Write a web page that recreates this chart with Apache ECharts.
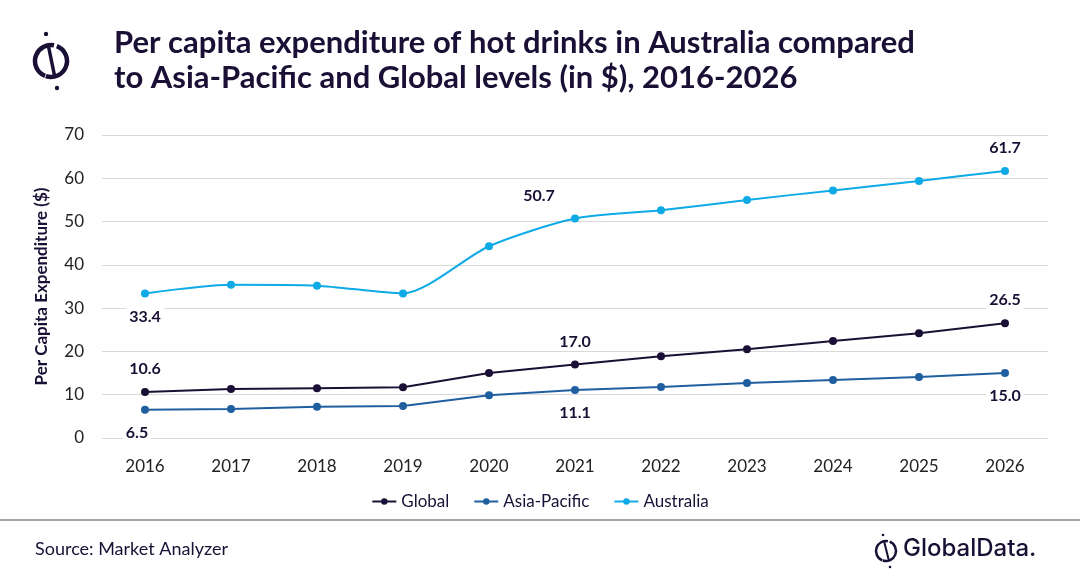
<!DOCTYPE html>
<html><head><meta charset="utf-8">
<script src="https://cdn.jsdelivr.net/npm/echarts@6/dist/echarts.min.js"></script>
<style>html,body{margin:0;padding:0;background:#fff}#c{width:1080px;height:578px}</style>
</head><body><div id="c"></div>
<script>
const years = ['2016','2017','2018','2019','2020','2021','2022','2023','2024','2025','2026'];
const globalVals = [10.6, 11.3, 11.5, 11.7, 15.0, 17.0, 18.9, 20.5, 22.4, 24.2, 26.5];
const asiaVals = [6.5, 6.7, 7.2, 7.4, 9.9, 11.1, 11.8, 12.7, 13.4, 14.1, 15.0];
const ausVals = [33.4, 35.4, 35.2, 33.4, 44.3, 50.7, 52.6, 55.0, 57.2, 59.4, 61.7];
const yTicks = [0, 10, 20, 30, 40, 50, 60, 70];
// which points get a label, and where
const globalLabels = {0:'top', 5:'top', 10:'top'};
const asiaLabels = {0:'bottom', 5:'bottom', 10:'bottom'};
const ausLabels = {0:'bottom', 5:'top', 10:'top'};

const dark = '#1a1035';
const FONT = 'Lato';
function mkData(vals, labels, extra) {
  return vals.map((v, i) => {
    if (labels[i] === undefined) return v;
    const lab = {show: true, position: labels[i], formatter: v.toFixed(1), distance: 10,
      color: dark, fontWeight: 'bold', fontSize: 16, fontFamily: FONT,
      backgroundColor: '#fff', padding: [1, 3]};
    if (extra && extra[i]) Object.assign(lab, extra[i]);
    return {value: v, label: lab};
  });
}
const chart = echarts.init(document.getElementById('c'));
chart.setOption({
  animation: false,
  textStyle: {fontFamily: FONT},
  title: {
    text: 'Per capita expenditure of hot drinks in Australia compared\nto Asia-Pacific and Global levels (in $), 2016-2026',
    left: 109, top: 20,
    textStyle: {fontSize: 31, fontWeight: 'bold', color: dark, lineHeight: 35, fontFamily: FONT}
  },
  legend: {
    bottom: 63, left: 'center', itemWidth: 24, itemHeight: 8, itemGap: 24,
    textStyle: {fontSize: 17, color: dark, fontFamily: FONT},
    data: ['Global', 'Asia-Pacific', 'Australia']
  },
  grid: {left: 102, right: 32, top: 135, bottom: 140},
  xAxis: {
    type: 'category', data: years, boundaryGap: true,
    axisLine: {show: false}, axisTick: {show: false},
    axisLabel: {fontSize: 17, color: '#222', margin: 20, fontFamily: FONT}
  },
  yAxis: {
    type: 'value', min: 0, max: 70, interval: 10,
    name: 'Per Capita Expenditure ($)', nameLocation: 'middle', nameGap: 52,
    nameTextStyle: {fontSize: 17, fontWeight: 'bold', color: dark, fontFamily: FONT},
    axisLabel: {fontSize: 17, color: '#222', margin: 18, fontFamily: FONT,
      formatter: v => yTicks.includes(v) ? String(v) : ''},
    splitLine: {lineStyle: {color: '#d9d9d9', width: 1}}
  },
  series: [
    {name: 'Global', type: 'line', data: mkData(globalVals, globalLabels),
     symbol: 'circle', symbolSize: 8, color: dark, lineStyle: {width: 2}},
    {name: 'Asia-Pacific', type: 'line', data: mkData(asiaVals, asiaLabels, {0: {offset: [-8, 0]}}),
     symbol: 'circle', symbolSize: 8, color: '#1f5fa0', lineStyle: {width: 2}},
    {name: 'Australia', type: 'line', data: mkData(ausVals, ausLabels, {5: {offset: [-36, 0]}}),
     symbol: 'circle', symbolSize: 8, color: '#0eaae6', lineStyle: {width: 2}, smooth: 0.25}
  ],
  graphic: [
    {type: 'line', shape: {x1: 0, y1: 520, x2: 1080, y2: 520}, style: {stroke: '#888', lineWidth: 1.5}},
    {type: 'text', left: 35, top: 540, style: {text: 'Source: Market Analyzer', fontSize: 18, fill: dark, fontFamily: FONT}},
    // top-left logo
    {type: 'arc', shape: {cx: 51, cy: 61, r: 16, startAngle: -1.2, endAngle: 1.9, clockwise: true}, style: {stroke: dark, lineWidth: 4.5, fill: 'none'}},
    {type: 'arc', shape: {cx: 51, cy: 61, r: 16, startAngle: 1.95, endAngle: 4.9, clockwise: true}, style: {stroke: dark, lineWidth: 4.5, fill: 'none'}},
    {type: 'line', shape: {x1: 48, y1: 44, x2: 55, y2: 78}, style: {stroke: dark, lineWidth: 3.5}},
    {type: 'circle', shape: {cx: 46, cy: 34, r: 2.2}, style: {fill: dark}},
    {type: 'circle', shape: {cx: 57, cy: 88, r: 2.2}, style: {fill: dark}},
    // bottom-right logo
    {type: 'arc', shape: {cx: 886, cy: 551, r: 10, startAngle: -1.2, endAngle: 1.9, clockwise: true}, style: {stroke: dark, lineWidth: 2.5, fill: 'none'}},
    {type: 'arc', shape: {cx: 886, cy: 551, r: 10, startAngle: 1.95, endAngle: 4.9, clockwise: true}, style: {stroke: dark, lineWidth: 2.5, fill: 'none'}},
    {type: 'line', shape: {x1: 884, y1: 541, x2: 889, y2: 561}, style: {stroke: dark, lineWidth: 2}},
    {type: 'circle', shape: {cx: 883, cy: 535, r: 1.3}, style: {fill: dark}},
    {type: 'circle', shape: {cx: 890, cy: 567, r: 1.3}, style: {fill: dark}},
    {type: 'text', left: 903, top: 537, style: {text: 'GlobalData.', fontSize: 24, fill: dark, fontFamily: 'Inter', fontWeight: 500}}
  ]
});
</script></body></html>
